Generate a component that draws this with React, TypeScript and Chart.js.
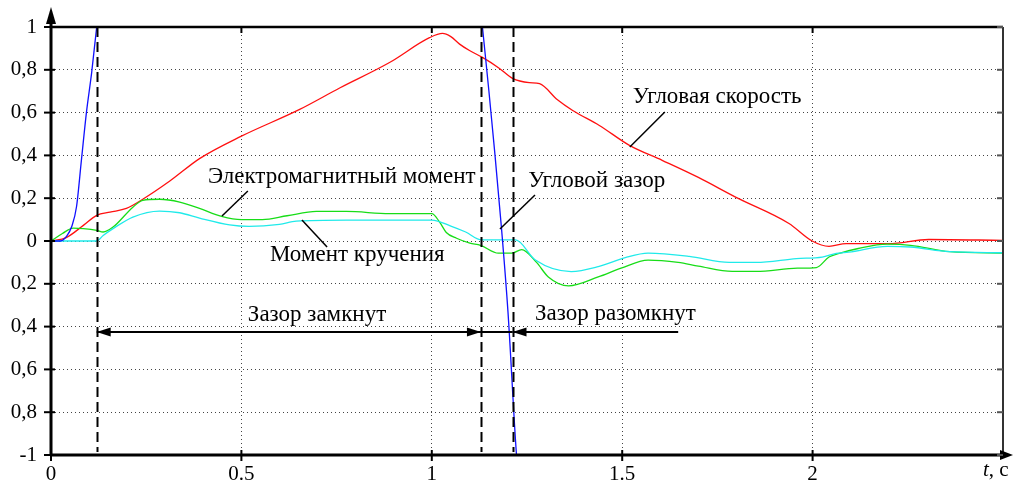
import { useEffect, useRef } from "react";
import { Chart, registerables } from "chart.js";

Chart.register(...registerables);

// ---- Data (t, seconds / relative units) ----
const speedT = [0, 0.04, 0.085, 0.12, 0.155, 0.198, 0.241, 0.312, 0.39, 0.5, 0.653, 0.758, 0.889, 0.994, 1.028, 1.05, 1.073, 1.099, 1.133, 1.175, 1.212, 1.256, 1.283, 1.33, 1.37, 1.44, 1.519, 1.605, 1.7, 1.799, 1.938, 1.999, 2.043, 2.088, 2.2, 2.305, 2.5];
const speedV = [0, 0.016, 0.073, 0.12, 0.135, 0.152, 0.195, 0.28, 0.385, 0.49, 0.615, 0.715, 0.834, 0.95, 0.97, 0.955, 0.92, 0.89, 0.858, 0.81, 0.76, 0.74, 0.735, 0.66, 0.61, 0.54, 0.447, 0.377, 0.297, 0.204, 0.082, 0.0, -0.025, -0.012, -0.012, 0.007, 0.003];

const emT = [0, 0.03, 0.058, 0.085, 0.12, 0.137, 0.163, 0.215, 0.241, 0.285, 0.338, 0.39, 0.448, 0.5, 0.555, 0.62, 0.697, 0.776, 0.889, 1.0, 1.02, 1.038, 1.065, 1.1, 1.128, 1.175, 1.21, 1.236, 1.275, 1.306, 1.359, 1.437, 1.497, 1.568, 1.647, 1.7, 1.789, 1.852, 1.96, 2.01, 2.043, 2.07, 2.12, 2.196, 2.257, 2.36, 2.5];
const emV = [0, 0.035, 0.06, 0.058, 0.05, 0.042, 0.065, 0.158, 0.19, 0.195, 0.182, 0.152, 0.115, 0.1, 0.1, 0.118, 0.138, 0.138, 0.128, 0.128, 0.09, 0.04, 0.013, -0.01, -0.02, -0.057, -0.057, -0.04, -0.1, -0.168, -0.21, -0.168, -0.127, -0.089, -0.1, -0.117, -0.142, -0.142, -0.127, -0.124, -0.075, -0.058, -0.035, -0.015, -0.02, -0.05, -0.057];

const torqueT = [0, 0.12, 0.137, 0.163, 0.215, 0.285, 0.338, 0.39, 0.469, 0.52, 0.6, 0.644, 0.775, 1.0, 1.05, 1.089, 1.131, 1.22, 1.272, 1.366, 1.437, 1.508, 1.568, 1.676, 1.781, 1.852, 1.957, 2.025, 2.062, 2.095, 2.196, 2.257, 2.36, 2.5];
const torqueV = [0, 0, 0.026, 0.058, 0.112, 0.14, 0.132, 0.107, 0.075, 0.068, 0.078, 0.093, 0.098, 0.098, 0.07, 0.042, 0.005, 0.005, -0.089, -0.143, -0.12, -0.078, -0.057, -0.072, -0.1, -0.1, -0.082, -0.075, -0.058, -0.052, -0.025, -0.028, -0.05, -0.055];

const gapT = [0, 0.025, 0.04, 0.055, 0.067, 0.08, 0.093, 0.107, 0.12, 0.128, 0.6, 1.125, 1.133, 1.15, 1.165, 1.183, 1.2, 1.222, 1.23];
const gapV: (number | null)[] = [0, 0, 0.02, 0.07, 0.16, 0.38, 0.6, 0.79, 1.0, 1.15, null, 1.15, 1.0, 0.7, 0.42, 0.06, -0.33, -0.99, -1.15];

// ---- Axes ----
const xTicks = [0, 0.5, 1, 1.5, 2];
const xTickLabels = ["0", "0.5", "1", "1.5", "2"];
const yTicks = [-1, -0.8, -0.6, -0.4, -0.2, 0, 0.2, 0.4, 0.6, 0.8, 1];
const yTickLabels = ["-1", "0,8", "0,6", "0,4", "0,2", "0", "0,2", "0,4", "0,6", "0,8", "1"];

// ---- Annotations (data coordinates) ----
const gapMarkT = [0.12, 1.129, 1.212];
const labelTexts = ["Угловая скорость", "Электромагнитный момент", "Угловой зазор", "Момент кручения", "Зазор замкнут", "Зазор разомкнут"];
const labelT = [1.528, 0.412, 1.253, 0.575, 0.517, 1.271];
const labelV = [0.645, 0.271, 0.252, -0.093, -0.374, -0.369];
const leaderT1 = [1.52, 0.449, 0.659, 1.179];
const leaderV1 = [0.439, 0.117, 0.098, 0.056];
const leaderT2 = [1.612, 0.517, 0.725, 1.271];
const leaderV2 = [0.603, 0.234, -0.028, 0.215];
const arrowV = -0.425;
const arrowStart = [0.12, 1.129, 1.647];
const arrowEnd = [1.129, 1.212, 1.212];
const arrowHeadStart = [true, false, false];
const arrowHeadEnd = [true, false, true];

const zip = (ts: number[], vs: (number | null)[]) => ts.map((t, i) => ({ x: t, y: vs[i] }));

const FONT = "'Liberation Serif', 'Times New Roman', 'DejaVu Serif', serif";

const decor = {
  id: "decor",
  afterDraw(chart: any) {
    const { ctx, chartArea: a, scales } = chart;
    const x = scales.x;
    const y = scales.y;
    ctx.save();
    ctx.strokeStyle = "#000";
    ctx.fillStyle = "#000";

    // dashed vertical markers
    ctx.lineWidth = 2;
    ctx.setLineDash([10, 5]);
    for (const t of gapMarkT) {
      const px = Math.round(x.getPixelForValue(t)) + 0.5;
      ctx.beginPath();
      ctx.moveTo(px, a.top);
      ctx.lineTo(px, a.bottom - 3);
      ctx.stroke();
    }
    ctx.setLineDash([]);

    // horizontal arrows
    const head = (tx: number, ty: number, dir: number) => {
      ctx.beginPath();
      ctx.moveTo(tx, ty);
      ctx.lineTo(tx - dir * 14, ty - 4.5);
      ctx.lineTo(tx - dir * 14, ty + 4.5);
      ctx.closePath();
      ctx.fill();
    };
    const ay = y.getPixelForValue(arrowV);
    ctx.lineWidth = 2;
    for (let i = 0; i < arrowStart.length; i++) {
      const x1 = x.getPixelForValue(arrowStart[i]);
      const x2 = x.getPixelForValue(arrowEnd[i]);
      ctx.beginPath();
      ctx.moveTo(x1, ay);
      ctx.lineTo(x2, ay);
      ctx.stroke();
      const dir = Math.sign(x2 - x1);
      if (arrowHeadStart[i]) head(x1, ay, -dir);
      if (arrowHeadEnd[i]) head(x2, ay, dir);
    }

    // leader lines
    ctx.lineWidth = 1.5;
    for (let i = 0; i < leaderT1.length; i++) {
      ctx.beginPath();
      ctx.moveTo(x.getPixelForValue(leaderT1[i]), y.getPixelForValue(leaderV1[i]));
      ctx.lineTo(x.getPixelForValue(leaderT2[i]), y.getPixelForValue(leaderV2[i]));
      ctx.stroke();
    }

    // labels
    ctx.font = `23px ${FONT}`;
    ctx.textBaseline = "alphabetic";
    ctx.textAlign = "left";
    for (let i = 0; i < labelTexts.length; i++) {
      ctx.fillText(labelTexts[i], x.getPixelForValue(labelT[i]), y.getPixelForValue(labelV[i]));
    }

    // frame
    ctx.lineWidth = 2.5;
    ctx.beginPath();
    ctx.moveTo(a.left, a.top);
    ctx.lineTo(a.right, a.top);
    ctx.stroke();
    ctx.strokeStyle = "#333";
    ctx.lineWidth = 2;
    ctx.beginPath();
    ctx.moveTo(a.right, a.top);
    ctx.lineTo(a.right, a.bottom);
    ctx.stroke();
    ctx.strokeStyle = "#000";
    ctx.lineWidth = 3;
    ctx.beginPath();
    ctx.moveTo(a.left, a.bottom);
    ctx.lineTo(a.right + 2, a.bottom);
    ctx.stroke();
    ctx.beginPath();
    ctx.moveTo(a.left, a.bottom);
    ctx.lineTo(a.left, a.top - 4);
    ctx.stroke();
    // axis arrows
    ctx.beginPath();
    ctx.moveTo(a.left, 7);
    ctx.lineTo(a.left - 5, 24);
    ctx.lineTo(a.left + 5, 24);
    ctx.closePath();
    ctx.fill();
    ctx.beginPath();
    ctx.moveTo(a.right + 10, a.bottom);
    ctx.lineTo(a.right - 3, a.bottom - 5);
    ctx.lineTo(a.right - 3, a.bottom + 5);
    ctx.closePath();
    ctx.fill();

    // tick marks
    ctx.lineWidth = 2;
    for (const v of yTicks) {
      const py = y.getPixelForValue(v);
      ctx.strokeStyle = "#000";
      ctx.beginPath();
      ctx.moveTo(a.left - 7, py);
      ctx.lineTo(a.left + 4, py);
      ctx.stroke();
      ctx.strokeStyle = "#555";
      ctx.beginPath();
      ctx.moveTo(a.right - 6, py);
      ctx.lineTo(a.right, py);
      ctx.stroke();
    }
    ctx.strokeStyle = "#000";
    for (const v of xTicks) {
      const px = x.getPixelForValue(v);
      ctx.beginPath();
      ctx.moveTo(px, a.bottom - 5);
      ctx.lineTo(px, a.bottom + 6);
      ctx.stroke();
      ctx.beginPath();
      ctx.moveTo(px, a.top);
      ctx.lineTo(px, a.top + 6);
      ctx.stroke();
    }

    // axis title "t, c"
    ctx.font = `italic 21px ${FONT}`;
    ctx.textBaseline = "alphabetic";
    ctx.fillText("t", 983, 476);
    const w = ctx.measureText("t").width;
    ctx.font = `21px ${FONT}`;
    ctx.fillText(", c", 983 + w, 476);
    ctx.restore();
  },
};

export default function App() {
  const ref = useRef<HTMLCanvasElement | null>(null);
  useEffect(() => {
    document.body.style.margin = "0";
    let chart: Chart | null = null;
    let cancelled = false;
    const make = () => {
      if (cancelled || !ref.current) return;
      chart = new Chart(ref.current, {
        type: "line",
        data: {
          datasets: [
            { label: "Угловой зазор", data: zip(gapT, gapV), borderColor: "#1010ff" },
            { label: "Момент кручения", data: zip(torqueT, torqueV), borderColor: "#20eaea" },
            { label: "Электромагнитный момент", data: zip(emT, emV), borderColor: "#18dd18" },
            { label: "Угловая скорость", data: zip(speedT, speedV), borderColor: "#ff1010" },
          ].map((d) => ({
            ...d,
            borderWidth: 1.3,
            pointRadius: 0,
            fill: false,
            cubicInterpolationMode: "monotone" as const,
            spanGaps: false,
          })),
        },
        plugins: [decor],
        options: {
          animation: false,
          responsive: false,
          layout: { padding: { left: 0, right: 10, top: 27, bottom: 0 } },
          plugins: { legend: { display: false }, tooltip: { enabled: false } },
          scales: {
            x: {
              type: "linear",
              min: 0,
              max: 2.5,
              afterFit: (s: any) => { s.height = 30; },
              afterBuildTicks: (s: any) => { s.ticks = xTicks.map((v) => ({ value: v })); },
              grid: { color: "#444", lineWidth: 1, drawTicks: false },
              border: { display: false, dash: [1, 3] },
              ticks: {
                padding: 7,
                color: "#000",
                font: { family: FONT, size: 21 },
                maxRotation: 0,
                autoSkip: false,
                callback: (v: any) => { const i = xTicks.indexOf(Number(v)); return i >= 0 ? xTickLabels[i] : ""; },
              },
            },
            y: {
              type: "linear",
              min: -1,
              max: 1,
              afterFit: (s: any) => { s.width = 51; },
              afterBuildTicks: (s: any) => { s.ticks = yTicks.map((v) => ({ value: v })); },
              grid: { color: "#444", lineWidth: 1, drawTicks: false },
              border: { display: false, dash: [1, 3] },
              ticks: {
                padding: 14,
                color: "#000",
                font: { family: FONT, size: 21 },
                autoSkip: false,
                callback: (v: any) => {
                  const i = yTicks.findIndex((t) => Math.abs(t - Number(v)) < 1e-6);
                  return i >= 0 ? yTickLabels[i] : "";
                },
              },
            },
          },
        },
      });
    };
    const fonts: any = (document as any).fonts;
    if (fonts && fonts.load) {
      Promise.all([
        fonts.load("20px 'Liberation Serif'"),
        fonts.load("italic 20px 'Liberation Serif'"),
      ]).then(make, make);
    } else {
      make();
    }
    return () => {
      cancelled = true;
      if (chart) chart.destroy();
    };
  }, []);
  return (
    <div style={{ width: 1013, height: 485 }}>
      <canvas ref={ref} width={1013} height={485} style={{ display: "block" }} />
    </div>
  );
}
